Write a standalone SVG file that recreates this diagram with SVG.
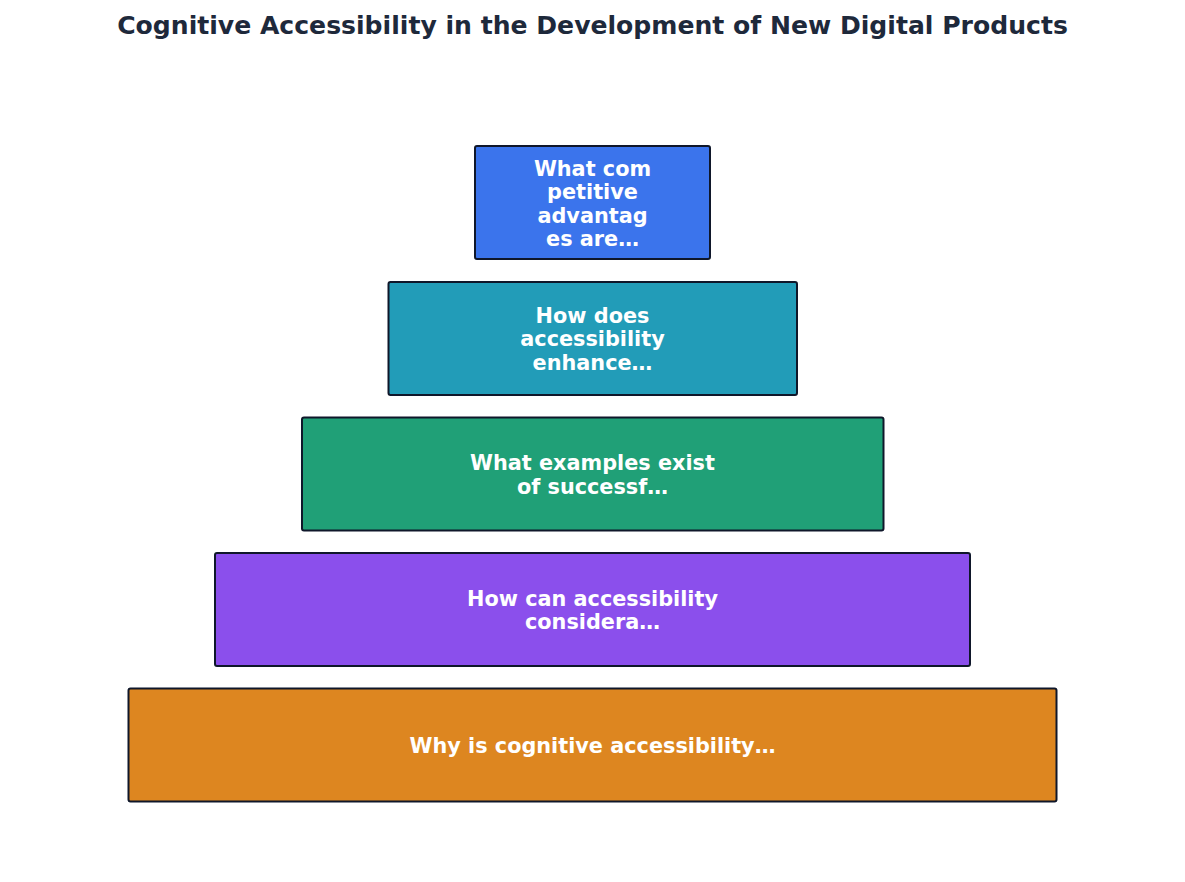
<svg xmlns="http://www.w3.org/2000/svg" width="1185" height="882" viewBox="0 0 1185 882">
<style>
.box{stroke:#0f172a;stroke-width:2}
.lbl{font-family:"DejaVu Sans",sans-serif;font-weight:bold;font-size:20.8px;fill:#ffffff;text-anchor:middle}
.title{font-family:"DejaVu Sans",sans-serif;font-weight:bold;font-size:25.1px;fill:#1e293b;text-anchor:middle}
</style>
<rect width="1185" height="882" fill="#ffffff"/>
<text class="title" x="592.5" y="34">Cognitive Accessibility in the Development of New Digital Products</text>
<g id="connectors"></g>
<g id="level1">
<rect class="box" x="475" y="146" width="235" height="113" rx="2" fill="#3b74ec"/>
<text class="lbl" x="592.5"><tspan x="592.5" y="175.5">What com</tspan><tspan x="592.5" y="198.5">petitive</tspan><tspan x="592.5" y="222.5">advantag</tspan><tspan x="592.5" y="245.5">es are…</tspan></text>
</g>
<g id="level2">
<rect class="box" x="388.5" y="282" width="408.5" height="113" rx="2" fill="#229cb8"/>
<text class="lbl" x="592.5"><tspan x="592.5" y="322.5">How does</tspan><tspan x="592.5" y="345.5">accessibility</tspan><tspan x="592.5" y="369.5">enhance…</tspan></text>
</g>
<g id="level3">
<rect class="box" x="302" y="417.5" width="581.5" height="113" rx="2" fill="#20a077"/>
<text class="lbl" x="592.5"><tspan x="592.5" y="469.5">What examples exist</tspan><tspan x="592.5" y="493.5">of successf…</tspan></text>
</g>
<g id="level4">
<rect class="box" x="215" y="553" width="755" height="113" rx="2" fill="#8b4fec"/>
<text class="lbl" x="592.5"><tspan x="592.5" y="605.5">How can accessibility</tspan><tspan x="592.5" y="628.5">considera…</tspan></text>
</g>
<g id="level5">
<rect class="box" x="128.5" y="688.5" width="928" height="113" rx="2" fill="#dd8620"/>
<text class="lbl" x="592.5" y="752.5">Why is cognitive accessibility…</text>
</g>
</svg>
